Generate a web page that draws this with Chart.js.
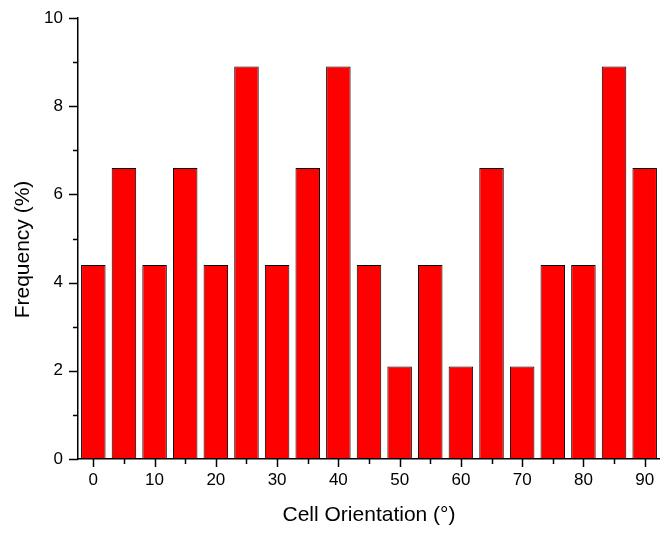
<!DOCTYPE html>
<html>
<head>
<meta charset="utf-8">
<script src="https://cdn.jsdelivr.net/npm/chart.js@4"></script>
<style>
  html, body { margin: 0; padding: 0; background: #fff; }
  #wrap { width: 660px; height: 533px; }
</style>
</head>
<body>
<div id="wrap"><canvas id="c" width="660" height="533"></canvas></div>
<script>
// Orientation bins (degrees) and frequency per bin (%)
const orientations = [0, 5, 10, 15, 20, 25, 30, 35, 40, 45, 50, 55, 60, 65, 70, 75, 80, 85, 90];
const frequencies = [4.4, 6.6, 4.4, 6.6, 4.4, 8.9, 4.4, 6.6, 8.9, 4.4, 2.1, 4.4, 2.1, 6.6, 2.1, 4.4, 4.4, 8.9, 6.6];

// Labelled ticks
const xTickLabels = [0, 10, 20, 30, 40, 50, 60, 70, 80, 90];
const yTickLabels = [0, 2, 4, 6, 8, 10];

const yAxisTitle = 'Frequency (%)';
const FONT = '"Liberation Sans", Arial, Helvetica, sans-serif';

// Outward major/minor tick marks along both axes, plus the rotated y-axis title
const axisDecor = {
  id: 'axisDecor',
  afterDraw(chart) {
    const { ctx, chartArea, scales } = chart;
    ctx.save();
    ctx.strokeStyle = '#000';
    ctx.lineWidth = 1.5;
    ctx.beginPath();
    for (let v = 0; v <= 10; v += 1) {
      const y = Math.round(scales.y.getPixelForValue(v)) + 0.5;
      const len = v % 2 === 0 ? 9 : 5;
      ctx.moveTo(chartArea.left, y);
      ctx.lineTo(chartArea.left - len, y);
    }
    for (let v = 0; v <= 90; v += 5) {
      const x = Math.round(scales.x.getPixelForValue(v)) + 0.5;
      const len = v % 10 === 0 ? 8 : 5;
      ctx.moveTo(x, chartArea.bottom);
      ctx.lineTo(x, chartArea.bottom + len);
    }
    ctx.stroke();

    // y-axis title, sitting a little below the middle of the axis
    ctx.translate(23, (chartArea.top + chartArea.bottom) / 2 + 11);
    ctx.rotate(-Math.PI / 2);
    ctx.fillStyle = '#000';
    ctx.font = '21px ' + FONT;
    ctx.textAlign = 'center';
    ctx.textBaseline = 'middle';
    ctx.fillText(yAxisTitle, 0, 0);
    ctx.restore();
  }
};

function noEdgePadding(scale) {
  scale.paddingTop = 0;
  scale.paddingBottom = 0;
  scale.paddingLeft = 0;
  scale.paddingRight = 0;
}

new Chart(document.getElementById('c'), {
  type: 'bar',
  data: {
    datasets: [{
      data: orientations.map((o, i) => ({ x: o, y: frequencies[i] })),
      backgroundColor: '#ff0000',
      borderColor: '#000000',
      borderWidth: 1,
      borderSkipped: false,
      categoryPercentage: 1.0,
      barPercentage: 0.8
    }]
  },
  options: {
    responsive: false,
    animation: false,
    events: [],
    layout: { padding: { top: 18, right: 0, bottom: 0, left: 0 } },
    plugins: {
      legend: { display: false },
      tooltip: { enabled: false }
    },
    scales: {
      x: {
        type: 'linear',
        offset: false,
        min: -2.5,
        max: 92.5,
        afterBuildTicks(scale) {
          scale.ticks = xTickLabels.map(v => ({ value: v }));
        },
        afterFit(scale) { scale.height = 74; noEdgePadding(scale); },
        grid: { display: false, drawTicks: false },
        border: { display: true, color: '#000', width: 1.5 },
        ticks: {
          color: '#000',
          padding: 11,
          autoSkip: false,
          maxRotation: 0,
          font: { family: FONT, size: 17 }
        },
        title: {
          display: true,
          text: 'Cell Orientation (°)',
          color: '#000',
          font: { family: FONT, size: 21 },
          padding: { top: 0, bottom: 5 }
        }
      },
      y: {
        min: 0,
        max: 10,
        afterBuildTicks(scale) {
          scale.ticks = yTickLabels.map(v => ({ value: v }));
        },
        afterFit(scale) { scale.width = 78; noEdgePadding(scale); },
        grid: { display: false, drawTicks: false },
        border: { display: true, color: '#000', width: 1.5 },
        ticks: {
          color: '#000',
          padding: 15,
          font: { family: FONT, size: 17 }
        }
      }
    }
  },
  plugins: [axisDecor]
});
</script>
</body>
</html>
